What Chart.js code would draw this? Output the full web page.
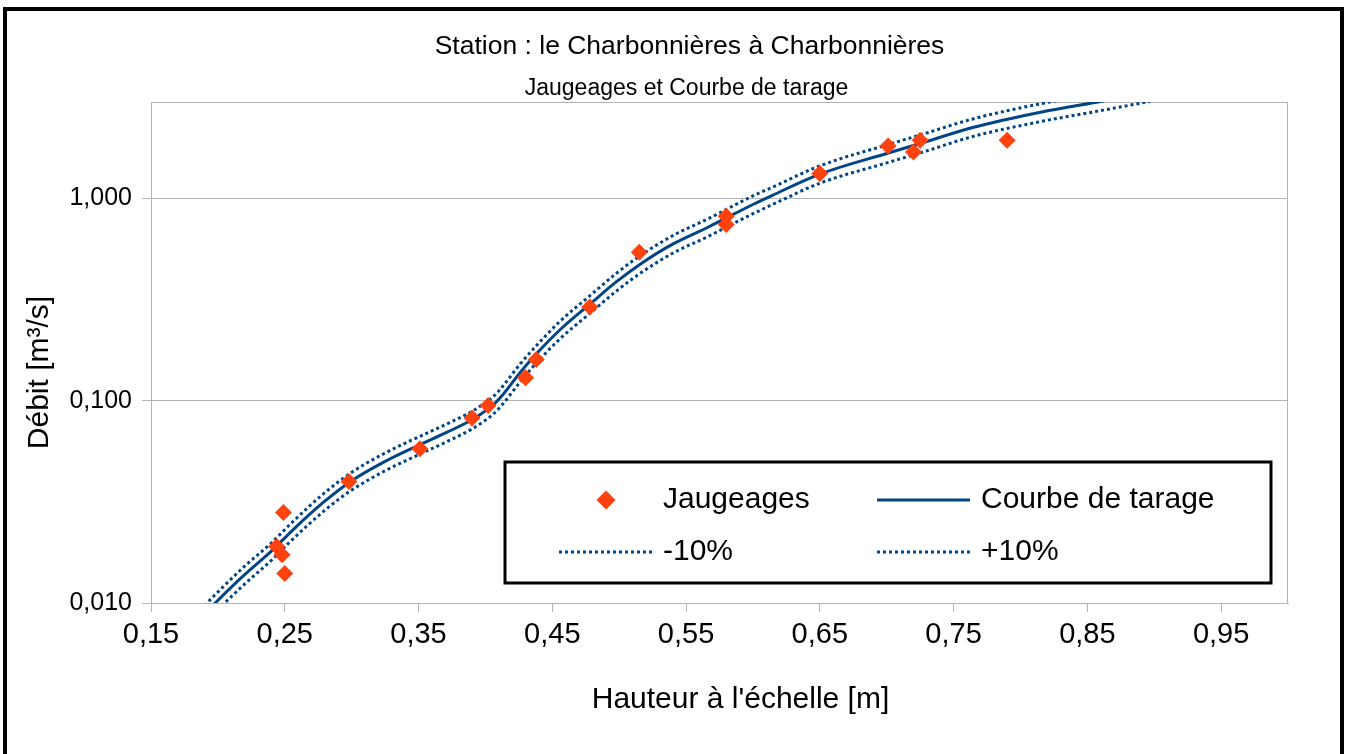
<!DOCTYPE html>
<html lang="fr">
<head>
<meta charset="utf-8">
<title>Station : le Charbonnières à Charbonnières</title>
<script src="https://cdn.jsdelivr.net/npm/chart.js@4.4.1/dist/chart.umd.min.js"></script>
<style>
  html, body { margin: 0; padding: 0; background: #fff; overflow: hidden; }
  #wrap { position: relative; width: 1347px; height: 754px; }
  #frame { position: absolute; left: 3px; top: 7px; width: 1333px; height: 800px; border: 4px solid #000; pointer-events: none; }
</style>
</head>
<body>
<div id="wrap">
  <canvas id="chart" width="1347" height="754"></canvas>
  <div id="frame"></div>
</div>
<script>
'use strict';

/* Données : jaugeages (h, Q) et courbe de tarage ±10 % */
const H_JAUGEAGES = [0.249, 0.244, 0.248, 0.250, 0.298, 0.351, 0.390, 0.402, 0.430, 0.438,
                     0.478, 0.515, 0.580, 0.580, 0.650, 0.701, 0.720, 0.725, 0.790];
const Q_JAUGEAGES = [0.0280, 0.0190, 0.0173, 0.0140, 0.0399, 0.0579, 0.0821, 0.0948, 0.130, 0.160,
                     0.291, 0.542, 0.818, 0.744, 1.33, 1.82, 1.70, 1.94, 1.94];

const H_COURBE  = [0.190, 0.198, 0.220, 0.241, 0.254, 0.279, 0.299, 0.324, 0.351, 0.371,
                   0.390, 0.398, 0.406, 0.413, 0.426, 0.439, 0.456, 0.478, 0.498, 0.516,
                   0.540, 0.566, 0.600, 0.615, 0.650, 0.700, 0.725, 0.765, 0.815, 0.860, 0.897];
const Q_COURBE  = [0.00883, 0.0100, 0.0138, 0.0183, 0.0223, 0.0315, 0.0398, 0.0497, 0.0606, 0.0697,
                   0.0805, 0.0872, 0.0955, 0.107, 0.138, 0.173, 0.225, 0.300, 0.388, 0.475,
                   0.595, 0.719, 0.934, 1.04, 1.32, 1.67, 1.87, 2.25, 2.67, 3.02, 3.35];
const Q_MOINS10 = [0.00795, 0.0090, 0.0124, 0.0165, 0.0201, 0.0284, 0.0358, 0.0447, 0.0545, 0.0627,
                   0.0725, 0.0785, 0.0860, 0.0963, 0.124, 0.156, 0.203, 0.270, 0.349, 0.428,
                   0.536, 0.647, 0.841, 0.936, 1.19, 1.50, 1.68, 2.03, 2.40, 2.72, 3.02];
const Q_PLUS10  = [0.00971, 0.0110, 0.0152, 0.0201, 0.0245, 0.0347, 0.0438, 0.0547, 0.0667, 0.0767,
                   0.0886, 0.0959, 0.105, 0.118, 0.152, 0.190, 0.248, 0.330, 0.427, 0.523,
                   0.655, 0.791, 1.03, 1.14, 1.45, 1.84, 2.06, 2.48, 2.94, 3.32, 3.69];

const X_TICKS = [0.15, 0.25, 0.35, 0.45, 0.55, 0.65, 0.75, 0.85, 0.95];
const X_TICK_LABELS = ['0,15', '0,25', '0,35', '0,45', '0,55', '0,65', '0,75', '0,85', '0,95'];
const Y_TICKS = [0.01, 0.1, 1];
const Y_TICK_LABELS = ['0,010', '0,100', '1,000'];

const TITLE = 'Station : le Charbonnières à Charbonnières';
const SUBTITLE = 'Jaugeages et Courbe de tarage';
const X_TITLE = "Hauteur à l'échelle [m]";
const Y_TITLE = 'Débit [m³/s]';

const FONT = "'Liberation Sans', Arial, sans-serif";
const BLUE = '#004586';
const ORANGE = '#ff420e';
const GRID = '#b3b3b3';

const pairs = (xs, ys) => xs.map((x, i) => ({ x, y: ys[i] }));

/* ── Cadre gris de la zone de tracé ── */
const plotFrame = {
  id: 'plotFrame',
  beforeDatasetsDraw(chart) {
    const { ctx, chartArea: a } = chart;
    ctx.save();
    ctx.strokeStyle = GRID;
    ctx.lineWidth = 1;
    ctx.strokeRect(a.left + 0.5, a.top + 0.5, a.right - a.left - 1, a.bottom - a.top);
    ctx.restore();
  },
};

/* ── Titres (placés comme dans l'export LibreOffice, décalés vers la droite) ── */
const titles = {
  id: 'titles',
  afterDraw(chart) {
    const { ctx, chartArea: a } = chart;
    const cx = (a.left + a.right) / 2;
    ctx.save();
    ctx.fillStyle = '#000';
    ctx.textAlign = 'center';
    ctx.textBaseline = 'middle';
    ctx.font = `26.5px ${FONT}`;
    ctx.fillText(TITLE, cx - 30, a.top - 55);
    ctx.font = `23px ${FONT}`;
    ctx.fillText(SUBTITLE, cx - 33, a.top - 13);
    ctx.font = `30px ${FONT}`;
    ctx.fillText(X_TITLE, cx + 21, a.bottom + 97);
    ctx.translate(40, (a.top + a.bottom) / 2 + 20);
    ctx.rotate(-Math.PI / 2);
    ctx.fillText(Y_TITLE, 0, 0);
    ctx.restore();
  },
};

/* ── Légende encadrée dans la zone de tracé (2 colonnes) ── */
const legendBox = {
  id: 'legendBox',
  afterDraw(chart) {
    const { ctx, chartArea } = chart;
    const w = 766, h = 121;
    const left = chartArea.right - 17 - w;
    const top = chartArea.bottom - 20 - h;
    ctx.save();
    ctx.fillStyle = '#fff';
    ctx.fillRect(left, top, w, h);
    ctx.lineWidth = 3;
    ctx.strokeStyle = '#000';
    ctx.strokeRect(left, top, w, h);
    ctx.font = `30px ${FONT}`;
    ctx.textBaseline = 'middle';
    chart.data.datasets.forEach((ds, i) => {
      const sx = left + 54 + (i % 2) * 318;
      const ty = top + 38 + Math.floor(i / 2) * 52;
      if (ds.showLine) {
        ctx.save();
        ctx.strokeStyle = ds.borderColor;
        ctx.lineWidth = ds.borderWidth;
        ctx.setLineDash(ds.borderDash || []);
        ctx.beginPath();
        ctx.moveTo(sx, ty);
        ctx.lineTo(sx + 93, ty);
        ctx.stroke();
        ctx.restore();
      } else {
        const cx = sx + 47, r = 9.5;
        ctx.fillStyle = ds.backgroundColor;
        ctx.beginPath();
        ctx.moveTo(cx - r, ty);
        ctx.lineTo(cx, ty - r);
        ctx.lineTo(cx + r, ty);
        ctx.lineTo(cx, ty + r);
        ctx.closePath();
        ctx.fill();
      }
      ctx.fillStyle = '#000';
      ctx.fillText(ds.label, sx + 104, ty);
    });
    ctx.restore();
  },
};

const bandStyle = {
  showLine: true,
  borderColor: BLUE,
  borderWidth: 3,
  borderDash: [3, 3],
  pointRadius: 0,
  cubicInterpolationMode: 'monotone',
};

new Chart(document.getElementById('chart'), {
  type: 'scatter',
  data: {
    datasets: [
      {
        label: 'Jaugeages',
        data: pairs(H_JAUGEAGES, Q_JAUGEAGES),
        pointStyle: 'rectRot',
        pointRadius: 8.5,
        borderWidth: 0,
        backgroundColor: ORANGE,
        borderColor: ORANGE,
      },
      {
        label: 'Courbe de tarage',
        data: pairs(H_COURBE, Q_COURBE),
        showLine: true,
        borderColor: BLUE,
        borderWidth: 3,
        pointRadius: 0,
        cubicInterpolationMode: 'monotone',
      },
      { label: '-10%', data: pairs(H_COURBE, Q_MOINS10), ...bandStyle },
      { label: '+10%', data: pairs(H_COURBE, Q_PLUS10), ...bandStyle },
    ],
  },
  options: {
    responsive: false,
    animation: false,
    layout: { padding: { top: 102, right: 59, bottom: 0, left: 0 } },
    plugins: {
      legend: { display: false },
      tooltip: { enabled: false },
      title: { display: false },
    },
    scales: {
      x: {
        type: 'linear',
        min: 0.15,
        max: 1.0,
        afterBuildTicks: s => { s.ticks = X_TICKS.map(v => ({ value: v })); },
        afterFit: s => { s.height = 151; },
        ticks: {
          color: '#000',
          font: { family: FONT, size: 29 },
          padding: 6,
          maxRotation: 0,
          callback: (v, i) => X_TICK_LABELS[i],
        },
        grid: { drawOnChartArea: false, color: GRID, tickLength: 9 },
        border: { display: true, color: GRID },
      },
      y: {
        type: 'logarithmic',
        min: 0.01,
        max: 3,
        afterBuildTicks: s => { s.ticks = Y_TICKS.map(v => ({ value: v })); },
        afterFit: s => { s.width = 151; },
        ticks: {
          color: '#000',
          font: { family: FONT, size: 25 },
          padding: 10,
          callback: (v, i) => Y_TICK_LABELS[i],
        },
        grid: { color: GRID, tickLength: 9 },
        border: { display: true, color: GRID },
      },
    },
  },
  plugins: [plotFrame, titles, legendBox],
});
</script>
</body>
</html>
